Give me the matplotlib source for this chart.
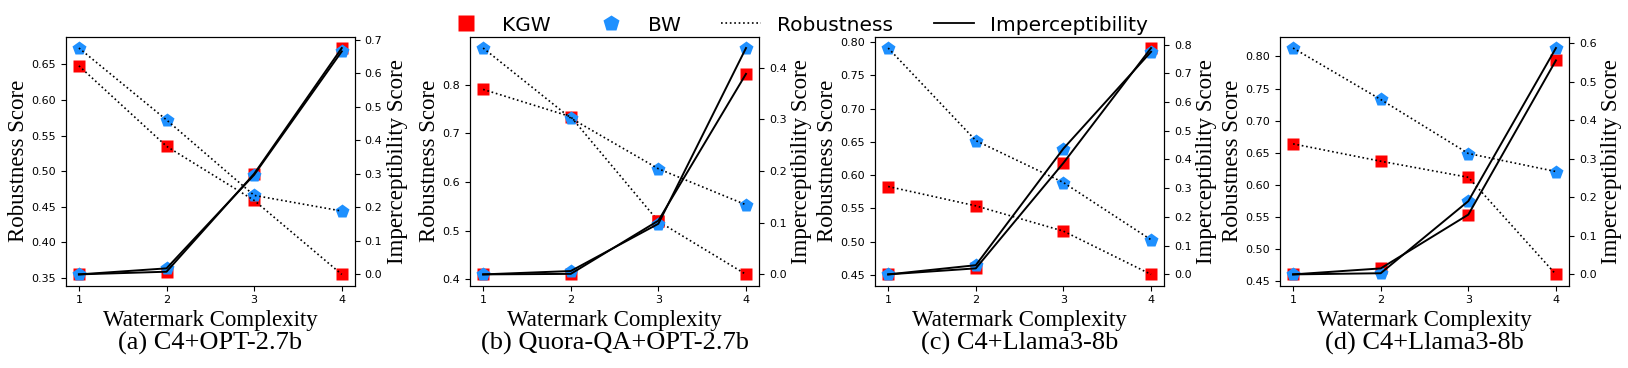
import matplotlib
matplotlib.use("Agg")
import matplotlib.pyplot as plt
from matplotlib.lines import Line2D

# watermark complexity levels
complexity = [1, 2, 3, 4]

captions = ["(a) C4+OPT-2.7b", "(b) Quora-QA+OPT-2.7b",
            "(c) C4+Llama3-8b", "(d) C4+Llama3-8b"]

# robustness (left axis)
kgw_rob = [
    [0.648, 0.535, 0.459, 0.355],
    [0.790, 0.734, 0.519, 0.410],
    [0.583, 0.554, 0.516, 0.451],
    [0.664, 0.637, 0.612, 0.461],
]
bw_rob = [
    [0.673, 0.572, 0.466, 0.444],
    [0.875, 0.731, 0.627, 0.553],
    [0.791, 0.652, 0.589, 0.503],
    [0.813, 0.733, 0.649, 0.621],
]

# imperceptibility (right axis)
kgw_imp = [
    [0.0, 0.008, 0.300, 0.675],
    [0.0, 0.001, 0.104, 0.388],
    [0.0, 0.021, 0.388, 0.788],
    [0.0, 0.0155, 0.155, 0.555],
]
bw_imp = [
    [0.0, 0.018, 0.297, 0.665],
    [0.0, 0.0065, 0.098, 0.438],
    [0.0, 0.032, 0.438, 0.775],
    [0.0, 0.003, 0.190, 0.587],
]

RED = "#ff0000"
BLUE = "#1e90ff"
serif = "Liberation Serif"

fig = plt.figure(figsize=(16.28, 3.68), dpi=100)

lefts = [0.0404, 0.2887, 0.5375, 0.7862]
for i in range(4):
    ax = fig.add_axes([lefts[i], 0.2236, 0.1776, 0.6766])
    ax2 = ax.twinx()

    # robustness
    ax.plot(complexity, kgw_rob[i], "s", color=RED, ms=9, mec="none")
    ax.plot(complexity, bw_rob[i], "p", color=BLUE, ms=10, mec="none")
    ax.plot(complexity, kgw_rob[i], "k:", lw=1.2)
    ax.plot(complexity, bw_rob[i], "k:", lw=1.2)

    # imperceptibility
    ax2.plot(complexity, kgw_imp[i], "s", color=RED, ms=9, mec="none")
    ax2.plot(complexity, bw_imp[i], "p", color=BLUE, ms=10, mec="none")
    ax2.plot(complexity, kgw_imp[i], "k-", lw=1.4)
    ax2.plot(complexity, bw_imp[i], "k-", lw=1.4)

    ax.set_xticks(complexity)
    ax.tick_params(labelsize=8)
    ax2.tick_params(labelsize=8)
    ax2.yaxis.set_major_formatter(matplotlib.ticker.FormatStrFormatter("%.1f"))

    ax.set_ylabel("Robustness Score", family=serif, fontsize=16.5, labelpad=2)
    ax2.set_ylabel("Imperceptibility Score", family=serif, fontsize=16.5, labelpad=3)
    ax.set_xlabel("Watermark Complexity", family=serif, fontsize=16.5, labelpad=3)

    fig.text(lefts[i] + 0.1776 / 2, 0.068, captions[i], family=serif,
             fontsize=19, ha="center", va="center")

handles = [
    Line2D([], [], marker="s", color=RED, ls="none", ms=11, mec="none"),
    Line2D([], [], marker="p", color=BLUE, ls="none", ms=12, mec="none"),
    Line2D([], [], color="k", ls=":", lw=1.2),
    Line2D([], [], color="k", ls="-", lw=1.3),
]
fig.legend(handles, ["KGW", "BW", "Robustness", "Imperceptibility"],
           loc="center", bbox_to_anchor=(0.4895, 0.932), ncol=4,
           frameon=False, fontsize=14.5)

fig.savefig("out.png", dpi=100)
